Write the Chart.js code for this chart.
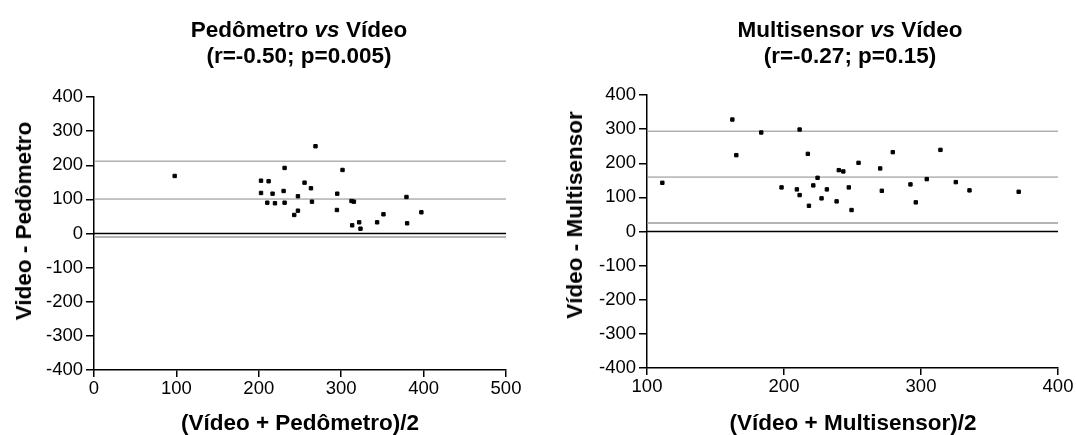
<!DOCTYPE html>
<html><head><meta charset="utf-8">
<script src="https://cdn.jsdelivr.net/npm/chart.js@4.4.0/dist/chart.umd.min.js"></script>
<style>
html,body{margin:0;padding:0;background:#fff;}
body{width:1076px;height:435px;position:relative;overflow:hidden;font-family:"Liberation Sans",Arial,sans-serif;color:#000;}
canvas{position:absolute;top:0;}
.t{position:absolute;font-weight:bold;font-size:22.5px;line-height:26.5px;text-align:center;white-space:nowrap;}
.yt{position:absolute;font-weight:bold;font-size:22.5px;line-height:26px;white-space:nowrap;transform:translate(-50%,-50%) rotate(-90deg);}
</style></head>
<body>
<canvas id="c1" width="540" height="435" style="left:0"></canvas>
<canvas id="c2" width="536" height="435" style="left:540px"></canvas>
<div class="t" style="left:99px;width:400px;top:16.5px">Pedômetro <i>vs</i> Vídeo<br>(r=-0.50; p=0.005)</div>
<div class="t" style="left:650px;width:400px;top:16.5px">Multisensor <i>vs</i> Vídeo<br>(r=-0.27; p=0.15)</div>
<div class="t" style="left:100px;width:400px;top:409.5px;line-height:26px">(Vídeo + Pedômetro)/2</div>
<div class="t" style="left:653px;width:400px;top:409.5px;line-height:26px">(Vídeo + Multisensor)/2</div>
<div class="yt" style="left:23.5px;top:221px">Video - Pedômetro</div>
<div class="yt" style="left:575px;top:215px">Vídeo - Multisensor</div>
<script>
// ---- Data ----
const pedMean = [97.9,202.7,211.9,202.7,216.7,210.3,219.6,231.3,230.1,231.3,247.5,243.0,247.5,255.5,263.3,264.5,268.8,295.2,294.8,301.6,312.5,315.4,313.3,321.8,323.4,343.6,351.3,379.2,380.0,397.3];
const pedDiff = [168.6,154.8,153.1,118.8,116.7,90.3,88.6,192.1,124.6,90.3,109.1,54.3,66.9,149.0,132.6,93.3,255.7,116.7,68.9,186.2,95.3,93.3,24.0,32.8,14.1,32.8,56.3,107.0,29.9,62.2];
const pedLimits = [212, 101, -10];   // upper LoA, bias, lower LoA

const multiMean = [111.2,162.3,165.2,183.4,198.2,209.4,211.4,211.4,217.4,218.2,221.4,224.5,227.4,231.3,238.4,240.0,243.3,247.3,249.3,254.4,270.2,271.4,279.4,292.3,296.2,304.2,314.2,325.4,335.4,371.3];
const multiDiff = [142.7,328.1,223.7,290.1,129.2,123.4,298.8,106.7,227.5,75.4,135.1,157.3,97.1,123.4,88.3,179.8,176.0,129.2,62.9,201.2,184.8,119.3,232.5,138.0,85.4,153.5,239.2,144.7,120.5,116.4];
const multiLimits = [294, 159.5, 25];

const pedXTicks = [0, 500];     // x range
const multiXTicks = [100, 400];
const yTicks = [-400, 400];
const tickStep = 100;

const FONT = '"Liberation Sans", Arial, sans-serif';

function makeChart(id, xs, ys, limits, xr, geom) {
  const pts = xs.map((x, i) => ({x: x, y: ys[i]}));
  const hline = (v, color, w) => ({
    type: 'line',
    data: [{x: xr[0], y: v}, {x: xr[1], y: v}],
    borderColor: color, borderWidth: w, pointRadius: 0, fill: false, order: 2
  });
  return new Chart(document.getElementById(id), {
    type: 'scatter',
    data: {
      datasets: [
        {data: pts, pointStyle: 'rect', pointRadius: 2.4, borderWidth: 1,
         backgroundColor: '#000', borderColor: '#000', order: 0},
        hline(limits[0], '#8a8a8a', 1),
        hline(limits[1], '#8a8a8a', 1),
        hline(limits[2], '#9a9a9a', 1.5),
        hline(0, '#000', 1.6)
      ]
    },
    options: {
      responsive: false, animation: false, devicePixelRatio: 1,
      layout: {padding: {left: 0, top: geom.top, right: geom.right, bottom: 0}},
      plugins: {legend: {display: false}, tooltip: {enabled: false}},
      scales: {
        x: {
          type: 'linear', min: xr[0], max: xr[1],
          ticks: {stepSize: tickStep, color: '#000', font: {family: FONT, size: 18.5}, padding: 1, maxRotation: 0},
          grid: {drawOnChartArea: false, drawTicks: true, tickLength: 7, color: '#000', lineWidth: 1.5},
          border: {display: true, color: '#000', width: 1.5},
          afterFit: s => { s.height = geom.xh; }
        },
        y: {
          type: 'linear', min: yTicks[0], max: yTicks[1],
          ticks: {stepSize: tickStep, color: '#000', font: {family: FONT, size: 18.5}, padding: 3},
          grid: {drawOnChartArea: false, drawTicks: true, tickLength: 8, color: '#000', lineWidth: 1.5},
          border: {display: true, color: '#000', width: 1.5},
          afterFit: s => { s.width = geom.yw; }
        }
      }
    }
  });
}

makeChart('c1', pedMean, pedDiff, pedLimits, pedXTicks, {top: 97, right: 34, xh: 65, yw: 94});
makeChart('c2', multiMean, multiDiff, multiLimits, multiXTicks, {top: 95, right: 18, xh: 67, yw: 107});
</script>
</body></html>
